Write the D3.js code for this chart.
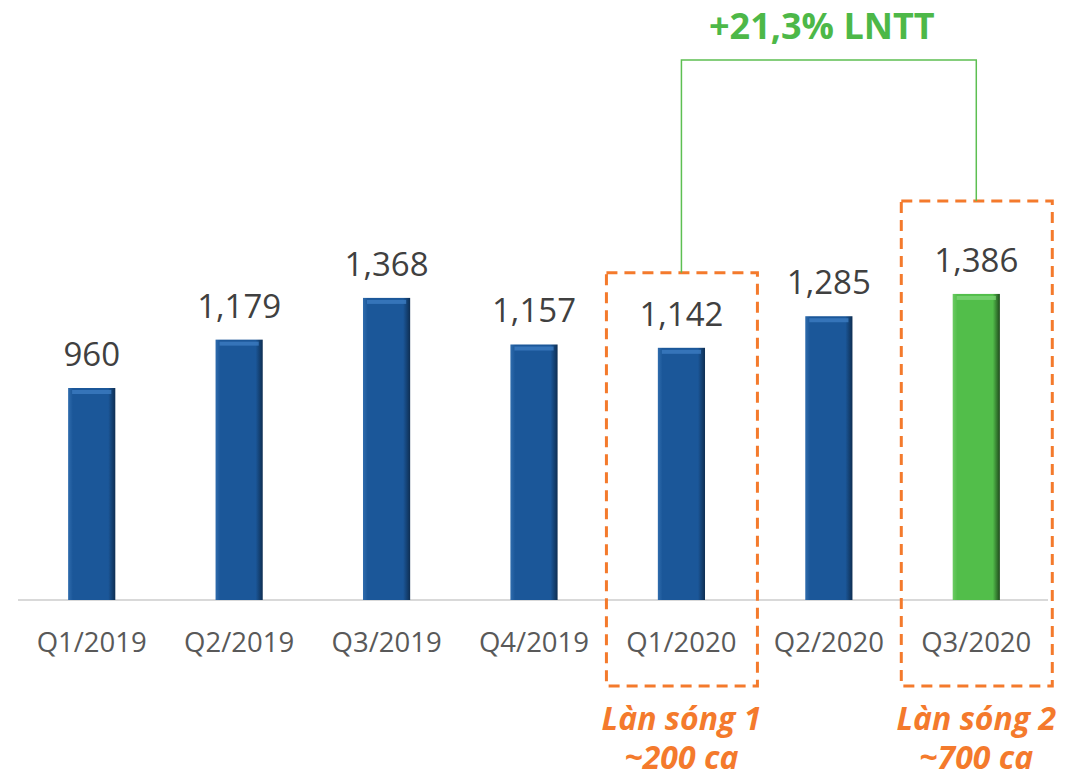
<!DOCTYPE html>
<html lang="vi">
<head>
<meta charset="UTF-8">
<title>LNTT theo quý</title>
<script src="https://d3js.org/d3.v7.min.js"></script>
<style>
  body { margin: 0; background: #fff; }
  .val { font: 33px "Open Sans", sans-serif; fill: #404040; text-anchor: middle; }
  .cat { font: 27.5px "Open Sans", sans-serif; fill: #595959; text-anchor: middle; }
  .wave { font: italic bold 32px "Open Sans", sans-serif; fill: #F47A2C; text-anchor: middle; }
  .title { font: bold 36px "Open Sans", sans-serif; fill: #4DB848; text-anchor: middle; }
</style>
</head>
<body>
<div id="chart"></div>
<script>
const quarters = ["Q1/2019", "Q2/2019", "Q3/2019", "Q4/2019", "Q1/2020", "Q2/2020", "Q3/2020"];
const profit = [960, 1179, 1368, 1157, 1142, 1285, 1386];
const highlighted = ["Q3/2020"];
const waves = [
  { from: "Q1/2020", lines: ["Làn sóng 1", "~200 ca"] },
  { from: "Q3/2020", lines: ["Làn sóng 2", "~700 ca"] }
];
const growthLabel = "+21,3% LNTT";

const W = 1079, H = 779;
const svg = d3.select("#chart").append("svg").attr("width", W).attr("height", H);

const x = d3.scaleBand().domain(quarters).range([18, 1050]).paddingInner(0.68).paddingOuter(0.34);
const y = d3.scaleLinear().domain([0, 2717]).range([600, 0]);

// gradients for bevelled bars
const defs = svg.append("defs");
function bevel(id, dark, mid, light) {
  const g = defs.append("linearGradient").attr("id", id).attr("x1", 0).attr("x2", 1);
  g.append("stop").attr("offset", 0).attr("stop-color", light);
  g.append("stop").attr("offset", 0.1).attr("stop-color", mid);
  g.append("stop").attr("offset", 0.85).attr("stop-color", mid);
  g.append("stop").attr("offset", 1).attr("stop-color", dark);
}
bevel("blue", "#0E2E52", "#1B5799", "#2F6CAD");
bevel("green", "#1F4A1C", "#52BE4A", "#6CCB63");

// baseline
svg.append("line").attr("x1", 18).attr("x2", 1048).attr("y1", y(0)).attr("y2", y(0))
  .attr("stroke", "#D9D9D9").attr("stroke-width", 2);

const bars = svg.selectAll(".bar").data(quarters).enter().append("g");
bars.append("rect")
  .attr("x", d => x(d)).attr("width", x.bandwidth())
  .attr("y", (d, i) => y(profit[i])).attr("height", (d, i) => y(0) - y(profit[i]))
  .attr("fill", d => highlighted.includes(d) ? "url(#green)" : "url(#blue)");
// top highlight strip
bars.append("rect")
  .attr("x", d => x(d) + 4).attr("width", x.bandwidth() - 8)
  .attr("y", (d, i) => y(profit[i]) + 2).attr("height", 4)
  .attr("fill", d => highlighted.includes(d) ? "#7CD474" : "#3C7CC0").attr("opacity", 0.8);

bars.append("text").attr("class", "val")
  .attr("x", d => x(d) + x.bandwidth() / 2)
  .attr("y", (d, i) => y(profit[i]) - 22)
  .text((d, i) => d3.format(",")(profit[i]));

svg.selectAll(".cat").data(quarters).enter().append("text").attr("class", "cat")
  .attr("x", d => x(d) + x.bandwidth() / 2).attr("y", 652).text(d => d);

// dashed boxes and wave labels
const boxHalf = 75;
const boxGap = [75, 93];
const boxTop = {};
waves.forEach((w, j) => {
  const i = quarters.indexOf(w.from);
  const cx = x(w.from) + x.bandwidth() / 2;
  const top = y(profit[i]) - boxGap[j];
  boxTop[w.from] = top;
  svg.append("rect").attr("x", cx - boxHalf).attr("y", top)
    .attr("width", boxHalf * 2 + 1).attr("height", 686 - top)
    .attr("fill", "none").attr("stroke", "#F47A2C").attr("stroke-width", 3)
    .attr("stroke-dasharray", "11,7");
  w.lines.forEach((t, k) => {
    svg.append("text").attr("class", "wave").attr("x", cx).attr("y", 730 + k * 39).text(t);
  });
});

// growth bracket
const c1 = x(waves[0].from) + x.bandwidth() / 2;
const c2 = x(waves[1].from) + x.bandwidth() / 2;
svg.append("path")
  .attr("d", `M${c1},${boxTop[waves[0].from]}V60H${c2}V${boxTop[waves[1].from]}`)
  .attr("fill", "none").attr("stroke", "#5DBF52").attr("stroke-width", 1.5);
svg.append("text").attr("class", "title").attr("x", (c1 + c2) / 2 - 7).attr("y", 39).text(growthLabel);
</script>
</body>
</html>
